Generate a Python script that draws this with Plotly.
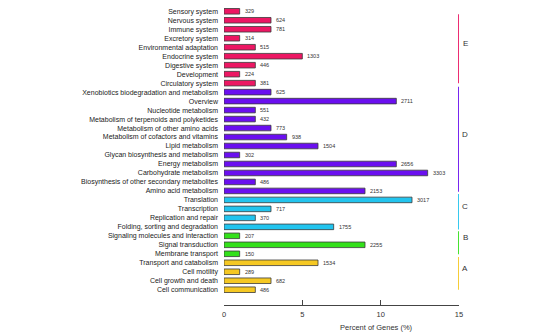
import plotly.graph_objects as go

categories = [
    "Sensory system", "Nervous system", "Immune system", "Excretory system",
    "Environmental adaptation", "Endocrine system", "Digestive system",
    "Development", "Circulatory system",
    "Xenobiotics biodegradation and metabolism", "Overview",
    "Nucleotide metabolism", "Metabolism of terpenoids and polyketides",
    "Metabolism of other amino acids", "Metabolism of cofactors and vitamins",
    "Lipid metabolism", "Glycan biosynthesis and metabolism",
    "Energy metabolism", "Carbohydrate metabolism",
    "Biosynthesis of other secondary metabolites", "Amino acid metabolism",
    "Translation", "Transcription", "Replication and repair",
    "Folding, sorting and degradation",
    "Signaling molecules and interaction", "Signal transduction",
    "Membrane transport",
    "Transport and catabolism", "Cell motility", "Cell growth and death",
    "Cell communication",
]
gene_counts = [329, 624, 781, 314, 515, 1303, 446, 224, 381,
               625, 2711, 551, 432, 773, 938, 1504, 302, 2656, 3303, 486, 2153,
               3017, 717, 370, 1755,
               207, 2255, 150,
               1534, 289, 682, 486]
percent = [1, 3, 3, 1, 2, 5, 2, 1, 2,
           3, 11, 2, 2, 3, 4, 6, 1, 11, 13, 2, 9,
           12, 3, 2, 7,
           1, 9, 1,
           6, 1, 3, 2]
groups = ["E"] * 9 + ["D"] * 12 + ["C"] * 4 + ["B"] * 3 + ["A"] * 4
group_names = ["E", "D", "C", "B", "A"]
group_colors = {"E": "#EC1763", "D": "#6A0FEF", "C": "#22C4EE",
                "B": "#33E01A", "A": "#F5C823"}
x_ticks = [0, 5, 10, 15]

idx = list(range(len(categories)))
colors = [group_colors[g] for g in groups]

fig = go.Figure()
fig.add_trace(go.Bar(
    x=percent, y=idx, orientation="h", width=0.62,
    marker=dict(color=colors, line=dict(color="#3a3a3a", width=0.8)),
    cliponaxis=False, hoverinfo="skip",
))

# value labels next to bar ends
for xv, yv, n in zip(percent, idx, gene_counts):
    fig.add_annotation(x=xv, y=yv, xref="x", yref="y", text=str(n),
                       showarrow=False, xanchor="left", xshift=3,
                       font=dict(size=5.5, color="#333333"))

# group bracket lines and letters (pixel-measured spans in index units)
spans = {"E": (0.33, 8.0), "D": (8.4, 20.1), "C": (20.35, 24.3),
         "B": (24.5, 27.06), "A": (27.36, 31.0)}
for g in group_names:
    y0, y1 = spans[g]
    fig.add_shape(type="line", xref="x", yref="y", x0=15, x1=15, y0=y0, y1=y1,
                  line=dict(color=group_colors[g], width=1.8))
    fig.add_annotation(x=1.048, y=(y0 + y1) / 2 - 0.55, xref="paper", yref="y",
                       text=g, showarrow=False,
                       font=dict(size=8, color="#333333"))

fig.add_annotation(x=9.75, y=-0.054, xref="x", yref="paper", yanchor="top",
                   text="Percent of Genes (%)", showarrow=False,
                   font=dict(size=7.5, color="#333333"))

fig.update_layout(
    width=557, height=335,
    margin=dict(l=224, r=97.7, t=5, b=30),
    paper_bgcolor="white", plot_bgcolor="white",
    font=dict(family="Liberation Sans, Arial, sans-serif", color="#222222"),
    showlegend=False,
    xaxis=dict(range=[0, 15], tickvals=x_ticks, ticks="inside", ticklen=5,
               tickcolor="#444444", showline=True, linecolor="#444444",
               linewidth=1, showgrid=False, zeroline=False,
               ticklabelstandoff=2,
               tickfont=dict(size=7.5, color="#333333")),
    yaxis=dict(range=[32.7, -0.7], tickvals=idx, ticktext=categories,
               showgrid=False, zeroline=False, showline=False, ticks="",
               ticklabelstandoff=5, tickfont=dict(size=7, color="#222222")),
)

fig.write_html("out.html")
